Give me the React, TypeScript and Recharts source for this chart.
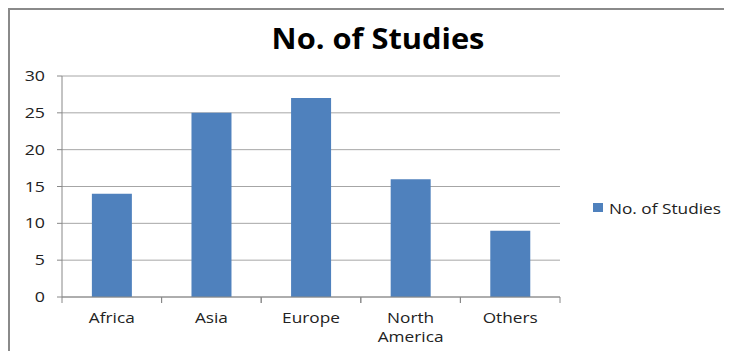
import React from "react";
import { BarChart, Bar, XAxis, YAxis, CartesianGrid, Legend } from "recharts";

const categories = ["Africa", "Asia", "Europe", "North\nAmerica", "Others"];
const studies = [14, 25, 27, 16, 9];
const yTicks = [0, 5, 10, 15, 20, 25, 30];
const seriesName = "No. of Studies";
const titleText = "No. of Studies";

const data = categories.map((c, i) => ({ region: c, value: studies[i] }));

const FONT = "'Open Sans', 'Liberation Sans', sans-serif";
const BAR_COLOR = "#4f81bd";

const CategoryTick = (props: any) => {
  const { x, y, payload, width, visibleTicksCount } = props;
  const half = width / visibleTicksCount / 2;
  const lines = String(payload.value).split("\n");
  return (
    <g>
      <line x1={x - half} x2={x - half} y1={y} y2={y + 6} stroke="#888" strokeWidth={1} />
      <line x1={x + half} x2={x + half} y1={y} y2={y + 6} stroke="#888" strokeWidth={1} />
      {lines.map((l, i) => (
        <g key={i} transform={`translate(${x},${y + 26 + i * 19}) scale(1.15,1)`}>
          <text x={0} y={0} textAnchor="middle" fontSize={15} fill="#222" fontFamily={FONT}>
            {l}
          </text>
        </g>
      ))}
    </g>
  );
};

const ValueTick = (props: any) => {
  const { x, y, payload } = props;
  return (
    <g transform={`translate(${x},${y}) scale(1.27,1)`}>
      <text x={0} y={0} dy="0.36em" textAnchor="end" fontSize={14} fill="#222" fontFamily={FONT}>
        {payload.value}
      </text>
    </g>
  );
};

const LegendContent = (props: any) => {
  const items = props.payload || [];
  return (
    <svg width={128} height={24} style={{ overflow: "visible" }}>
      {items.map((it: any, i: number) => (
        <g key={i}>
          <rect x={0} y={3} width={10} height={9} fill={it.color} />
          <g transform="translate(16,14) scale(1.15,1)">
            <text x={0} y={0} fontSize={15} fill="#222" fontFamily={FONT}>
              {it.value}
            </text>
          </g>
        </g>
      ))}
    </svg>
  );
};

export default function App() {
  return (
    <div style={{ position: "relative", width: 716, height: 343 }}>
      <BarChart
        width={724}
        height={343}
        data={data}
        margin={{ top: 68, right: 44, bottom: 14, left: 6 }}
        barCategoryGap="30%"
        style={{ position: "absolute", left: 0, top: 0 }}
      >
        <CartesianGrid vertical={false} stroke="#a6a6a6" strokeWidth={1} />
        <XAxis
          dataKey="region"
          height={40}
          axisLine={{ stroke: "#888" }}
          tickLine={false}
          tickSize={0}
          tickMargin={0}
          interval={0}
          tick={<CategoryTick />}
        />
        <YAxis
          width={48}
          domain={[0, 30]}
          ticks={yTicks}
          axisLine={{ stroke: "#888" }}
          tickLine={{ stroke: "#888" }}
          tickSize={5}
          tickMargin={12}
          tick={<ValueTick />}
        />
        <Legend
          layout="vertical"
          align="right"
          verticalAlign="top"
          content={<LegendContent />}
          wrapperStyle={{ left: 585, top: 192, right: "auto", width: 128, height: 24 }}
        />
        <Bar dataKey="value" name={seriesName} fill={BAR_COLOR} isAnimationActive={false} />
      </BarChart>
      <svg
        width={724}
        height={343}
        style={{ position: "absolute", left: 0, top: 0, pointerEvents: "none" }}
      >
        <line x1={1} x2={1} y1={0} y2={343} stroke="#8a8a8a" strokeWidth={2} />
        <line x1={0} x2={724} y1={1} y2={1} stroke="#8a8a8a" strokeWidth={2} />
        <g transform="translate(370,41) scale(1.1,1)">
          <text x={0} y={0} textAnchor="middle" fontSize={28} fontWeight={700} fill="#000" fontFamily={FONT}>
            {titleText}
          </text>
        </g>
      </svg>
    </div>
  );
}
